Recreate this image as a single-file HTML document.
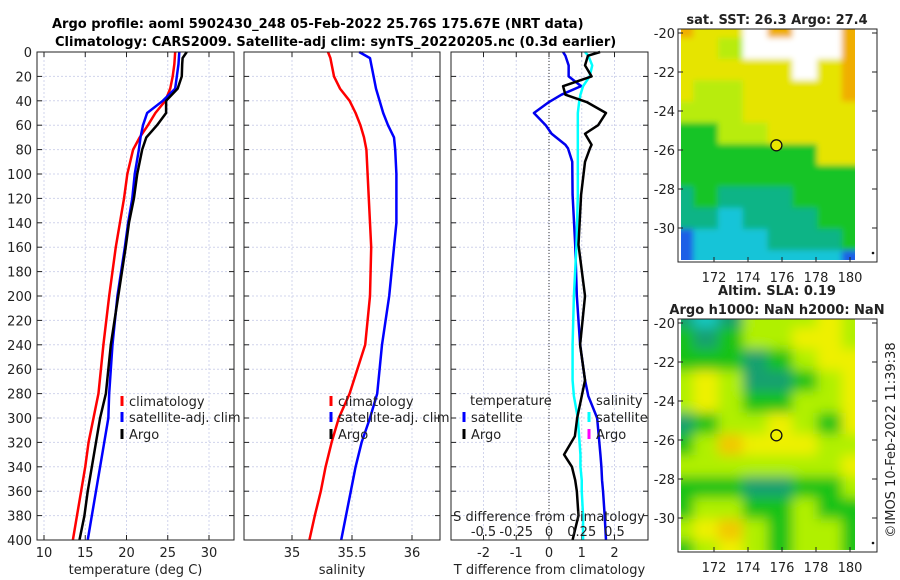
<!DOCTYPE html>
<html><head><meta charset="utf-8"><style>
html,body{margin:0;padding:0;background:#fff;}
svg{display:block;font-family:"DejaVu Sans","Liberation Sans",sans-serif;}
</style></head><body>
<svg id="fig" width="900" height="580" viewBox="0 0 900 580" xmlns="http://www.w3.org/2000/svg">
<defs>
<filter id="blur1" x="-10%" y="-10%" width="120%" height="120%"><feGaussianBlur stdDeviation="3"/></filter>
<filter id="blur2" x="-10%" y="-10%" width="120%" height="120%"><feGaussianBlur stdDeviation="6"/></filter>
<clipPath id="clipTop"><rect x="681" y="29" width="174" height="231"/></clipPath>
<clipPath id="clipBot"><rect x="681" y="319" width="174" height="231"/></clipPath>
</defs>
<text x="52" y="28" font-size="13" font-weight="bold">Argo profile: aoml 5902430_248 05-Feb-2022 25.76S 175.67E (NRT data)</text>
<text x="55" y="46" font-size="13" font-weight="bold">Climatology: CARS2009. Satellite-adj clim: synTS_20220205.nc (0.3d earlier)</text>
<g id="plots"></g>
</svg>
<script>
// ---------- data ----------
const depths = [0,5,10,20,30,40,50,60,70,80,100,120,140,160,200,240,280,300,320,340,360,380,400];
const tempClim = [25.9,25.85,25.8,25.6,25.3,24.7,23.5,22.6,21.6,20.8,20.1,19.7,19.2,18.7,17.9,17.2,16.6,16.0,15.4,15.0,14.5,14.0,13.5];
const tempSat  = [26.4,26.35,26.3,26.1,25.9,24.4,22.5,22.0,21.7,21.5,21.0,20.7,20.2,19.8,18.9,18.3,17.9,17.8,17.3,16.8,16.3,15.8,15.3];
const tempArgo = [27.3,26.8,26.75,26.7,26.2,24.8,24.8,23.7,22.4,21.9,21.3,20.9,20.3,19.9,19.0,18.1,17.5,16.8,16.3,15.8,15.3,14.9,14.3];
const salClim = [35.30,35.32,35.33,35.35,35.40,35.48,35.53,35.57,35.60,35.62,35.63,35.64,35.65,35.66,35.65,35.61,35.48,35.39,35.33,35.28,35.24,35.19,35.145];
const salSat  = [35.56,35.65,35.66,35.68,35.70,35.73,35.76,35.80,35.85,35.86,35.87,35.87,35.87,35.85,35.81,35.75,35.71,35.65,35.58,35.53,35.49,35.45,35.41];
const dDepths = [0,3,11,20,28,35,41,50,60,67,76,79,90,117,158,200,240,269,282,300,315,330,340,351,360,380,400];
const tDiffSat  = [0.43,0.5,0.6,0.6,0.98,0.38,0.0,-0.46,-0.1,0.08,0.5,0.58,0.71,0.72,0.8,0.85,0.95,1.1,1.2,1.47,1.52,1.57,1.6,1.62,1.65,1.7,1.74];
const tDiffArgo = [1.56,1.19,1.1,1.3,0.43,0.5,1.15,1.74,1.5,1.1,1.3,1.25,1.1,0.98,0.9,1.1,0.95,1.1,1.0,0.86,0.79,0.46,0.7,0.8,0.85,0.9,0.72];
const sDiffSat  = [0.275,0.3,0.33,0.31,0.26,0.24,0.23,0.22,0.22,0.22,0.22,0.22,0.22,0.22,0.21,0.19,0.18,0.18,0.19,0.22,0.23,0.24,0.24,0.25,0.25,0.26,0.26];
const depthTicks = [0,20,40,60,80,100,120,140,160,180,200,220,240,260,280,300,320,340,360,380,400];
const tempTicks = [10,15,20,25,30];
const salTicks = [35,35.5,36];
const tDiffTicks = [-2,-1,0,1,2];
const sDiffTicks = [-0.5,-0.25,0,0.25,0.5];
const sDiffTickLabels = ['-0.5','-0.25','0','0.25','0.5'];
const lonTicks = [172,174,176,178,180];
const latTicks = [-20,-22,-24,-26,-28,-30];
const sstGrid = [
"OYYWOWWO","YYLWWWWO","YYYYYWYO","YLLYYYYO","LLLYYYYY","GGLLYYYY",
"GGGGGGYY","GGGGGGGG","TGTTTGGG","TTCTTTGG","BCCCTTTG","BCCCCCCB"];
const slaGrid = [
"TCTLLLYL","GTGLLYYL","GGGTGLYY","LYLTTGLY","LYLGGLLY","TGLLYLGY",
"GLOYYYLL","LLLLLLLY","GGGTTGGL","GLLGGLGG","LYOLGLLG","GLYLGLLG"];
const sstColors = {O:'#f0ae00',Y:'#e6e400',L:'#b8ec10',G:'#12c428',T:'#10b486',C:'#14c4d8',B:'#1a5ee6',W:'#ffffff'};
const slaColors = {G:'#14c214',L:'#b0f000',Y:'#eef000',O:'#f2c800',T:'#12a070',C:'#16c8c0'};
const argoLon = 175.67, argoLat = -25.76;

// ---------- helpers ----------
const NS='http://www.w3.org/2000/svg';
const root=document.getElementById('plots');
function el(tag,attrs,parent){const e=document.createElementNS(NS,tag);for(const k in attrs)e.setAttribute(k,attrs[k]);(parent||root).appendChild(e);return e;}
function txt(x,y,s,attrs,parent){const t=el('text',Object.assign({x:x,y:y,'font-size':13,fill:'#222'},attrs||{}),parent);t.textContent=s;return t;}
const yTop=52,yBot=540;
const yD=d=>yTop+(d/400)*(yBot-yTop);
function linScale(d0,d1,r0,r1){return v=>r0+(v-d0)/(d1-d0)*(r1-r0);}

function panel(name,x0,x1,xs,ticks,labels,xlabel,showY){
  const g=el('g',{});  
  ticks.forEach(t=>{const l=el('line',{x1:xs(t),x2:xs(t),y1:yTop,y2:yBot,stroke:'#d0d4ec','stroke-dasharray':'2,2','stroke-width':1},g);});
  depthTicks.forEach(d=>{const l=el('line',{x1:x0,x2:x1,y1:yD(d),y2:yD(d),stroke:'#d0d4ec','stroke-dasharray':'2,2','stroke-width':1},g);
    el('line',{x1:x0,x2:x0+5,y1:yD(d),y2:yD(d),stroke:'#222'},g);el('line',{x1:x1-5,x2:x1,y1:yD(d),y2:yD(d),stroke:'#222'},g);
    if(showY){const t=txt(32,yD(d)+5,String(d),{'text-anchor':'end'},g);}});
  ticks.forEach((t,i)=>{el('line',{x1:xs(t),x2:xs(t),y1:yBot,y2:yBot-5,stroke:'#222'},g);el('line',{x1:xs(t),x2:xs(t),y1:yTop,y2:yTop+5,stroke:'#222'},g);
    const tl=txt(xs(t),557,labels[i],{'text-anchor':'middle'},g);});
  const xl=txt((x0+x1)/2,574,xlabel,{'text-anchor':'middle'},g);
  return g;
}
function series(g,name,xs,vals,ds,color){
  const p=el('polyline',{points:vals.map((v,i)=>xs(v)+','+yD(ds[i])).join(' '),fill:'none',stroke:color,'stroke-width':2.5,'stroke-linejoin':'round'},g);
  
}
function frame(g,x0,x1){const r=el('rect',{x:x0,y:yTop,width:x1-x0,height:yBot-yTop,fill:'none',stroke:'#222','stroke-width':1},g);}
function legendEntry(g,x,y,color,label,name){
  el('line',{x1:x,x2:x,y1:y-9,y2:y+1,stroke:color,'stroke-width':3},g);
  const t=txt(x+7,y+1,label,{},g);
}

// ---------- panel 1: temperature ----------
const xT=linScale(10,30,44,209);
const g1=panel('temperature-panel',37,234,xT,tempTicks,tempTicks.map(String),'temperature (deg C)',true);
series(g1,'temp-climatology-line',xT,tempClim,depths,'#ff0000');
series(g1,'temp-satellite-line',xT,tempSat,depths,'#0000ff');
series(g1,'temp-argo-line',xT,tempArgo,depths,'#000000');
frame(g1,37,234);
legendEntry(g1,122,405,'#ff0000','climatology','legend-climatology');
legendEntry(g1,122,421,'#0000ff','satellite-adj. clim','legend-satellite');
legendEntry(g1,122,438,'#000000','Argo','legend-argo');

// ---------- panel 2: salinity ----------
const xS=linScale(35,36,292,412);
const g2=panel('salinity-panel',244,440,xS,salTicks,salTicks.map(String),'salinity',false);
series(g2,'sal-climatology-line',xS,salClim,depths,'#ff0000');
series(g2,'sal-satellite-line',xS,salSat,depths,'#0000ff');
frame(g2,244,440);
legendEntry(g2,331,405,'#ff0000','climatology','legend-climatology');
legendEntry(g2,331,421,'#0000ff','satellite-adj. clim','legend-satellite');
legendEntry(g2,331,438,'#000000','Argo','legend-argo');

// ---------- panel 3: differences ----------
const xTd=linScale(0,1,549,581.75);
const xSd=linScale(0,0.25,549,581.75);
const g3=panel('difference-panel',451,648,xTd,tDiffTicks,tDiffTicks.map(String),'T difference from climatology',false);
el('line',{x1:xTd(0),x2:xTd(0),y1:yTop,y2:yBot,stroke:'#333','stroke-dasharray':'1,2','stroke-width':1},g3);
series(g3,'tdiff-satellite-line',xTd,tDiffSat,dDepths,'#0000ee');
series(g3,'sdiff-satellite-line',xSd,sDiffSat,dDepths,'#00ffff');
series(g3,'tdiff-argo-line',xTd,tDiffArgo,dDepths,'#000000');
frame(g3,451,648);
const st=txt(549,521,'S difference from climatology',{'text-anchor':'middle'},g3);
sDiffTicks.forEach((v,i)=>{const t=txt(xSd(v),536,sDiffTickLabels[i],{'text-anchor':'middle'},g3);});
const lt=txt(470,405,'temperature',{},g3);
legendEntry(g3,464,421,'#0000ff','satellite','legend-temp-satellite');
legendEntry(g3,464,438,'#000000','Argo','legend-temp-argo');
const ls=txt(596,405,'salinity',{},g3);
legendEntry(g3,589,421,'#00ffff','satellite','legend-sal-satellite');
legendEntry(g3,589,438,'#ff00ff','Argo','legend-sal-argo');

// ---------- maps ----------
function mapPanel(name,grid,colors,yImgTop,yLat20,clip,blurId,filled){
  const g=el('g',{});
  const lonX=lon=>714+(lon-172)*17;
  const latY=lat=>yLat20+(-20-lat)*19.5;
  const ig=el('g',{'clip-path':'url(#'+clip+')'},g);
  const fg=el('g',{filter:'url(#'+blurId+')'},ig);
  const pad=12;
  const cw=(174+2*pad)/8, ch=(231+2*pad)/12;
  grid.forEach((row,r)=>{[...row].forEach((c,k)=>{
    const cell=el('rect',{x:681-pad+k*cw-0.5,y:yImgTop-pad+r*ch-0.5,width:cw+1,height:ch+1,fill:colors[c]},fg);
    
  });});
  el('rect',{x:678,y:yImgTop,width:199,height:233,fill:'none',stroke:'#222'},g);
  lonTicks.forEach(l=>{el('line',{x1:lonX(l),x2:lonX(l),y1:yImgTop+233,y2:yImgTop+228,stroke:'#222'},g);
    const t=txt(lonX(l),yImgTop+253,String(l),{'text-anchor':'middle'},g);});
  latTicks.forEach(l=>{el('line',{x1:678,x2:683,y1:latY(l),y2:latY(l),stroke:'#222'},g);el('line',{x1:872,x2:877,y1:latY(l),y2:latY(l),stroke:'#222'},g);
    const t=txt(675,latY(l)+5,String(l),{'text-anchor':'end'},g);});
  const m=el('circle',{cx:lonX(argoLon),cy:latY(argoLat),r:5.5,fill:filled?'#e8e400':'none',stroke:'#111','stroke-width':1.3},g);
  
  el('circle',{cx:873,cy:yImgTop+224,r:1.3,fill:'#111'},g);
}
mapPanel('sst-map',sstGrid,sstColors,29,33,'clipTop','blur1',true);
mapPanel('sla-map',slaGrid,slaColors,319,323,'clipBot','blur2',false);
const t1=txt(777,24,'sat. SST: 26.3 Argo: 27.4',{'text-anchor':'middle','font-weight':'bold'});
const t2=txt(777,295,'Altim. SLA: 0.19',{'text-anchor':'middle','font-weight':'bold'});
const t3=txt(777,314,'Argo h1000: NaN h2000: NaN',{'text-anchor':'middle','font-weight':'bold'});
const cr=txt(0,0,'©IMOS 10-Feb-2022 11:39:38',{'text-anchor':'middle',transform:'translate(895,440) rotate(-90)'});
</script>
</body></html>
